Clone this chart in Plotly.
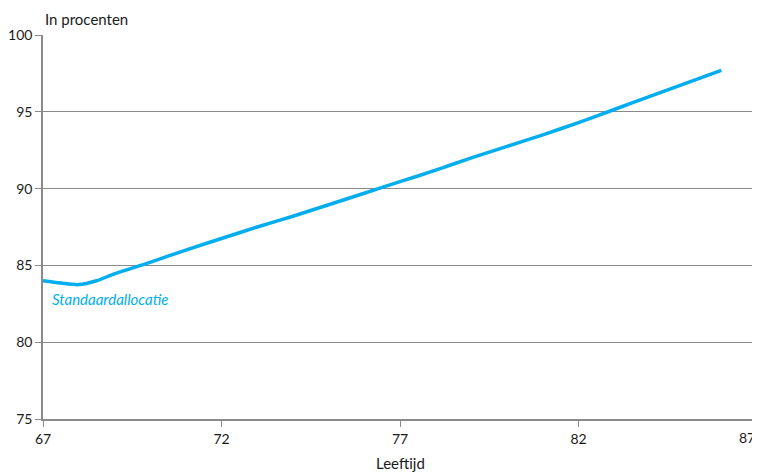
import plotly.graph_objects as go

ages = [67, 67.5, 68, 68.5, 69, 70, 71, 72, 73, 74, 75, 76, 77, 78, 79, 80, 81, 82, 83, 84, 85, 86]
standaard = [84.0, 83.85, 83.75, 84.0, 84.45, 85.2, 86.0, 86.75, 87.5, 88.2, 88.95, 89.7, 90.45,
             91.2, 92.0, 92.75, 93.5, 94.3, 95.15, 96.0, 96.85, 97.7]
x_ticks = [67, 72, 77, 82, 87]
y_ticks = [75, 80, 85, 90, 95, 100]

blue = "#00aeef"
grid = "#8a8a8a"
font = "Lato, Noto Sans, sans-serif"

fig = go.Figure()
fig.add_trace(go.Scatter(x=ages, y=standaard, mode="lines",
                         line=dict(color=blue, width=3.5, shape="spline", smoothing=0.8),
                         hoverinfo="skip", showlegend=False))

fig.add_annotation(x=67.2, y=82.8, xref="x", yref="y", text="<i>Standaardallocatie</i>",
                   showarrow=False, xanchor="left", yanchor="middle",
                   font=dict(family=font, size=15, color=blue))
fig.add_annotation(x=0, y=1, xref="paper", yref="paper", text="In procenten",
                   showarrow=False, xanchor="left", yanchor="bottom", yshift=5,
                   font=dict(family=font, size=15, color="#1a1a1a"))
fig.add_annotation(x=0.5, y=0, xref="paper", yref="paper", text="Leeftijd",
                   showarrow=False, xanchor="center", yanchor="top", yshift=-33,
                   font=dict(family=font, size=15, color="#1a1a1a"))
# last tick label, at the right edge as in the original
fig.add_annotation(x=x_ticks[-1], y=0, xref="x", yref="paper", text=str(x_ticks[-1]),
                   showarrow=False, xanchor="right", yanchor="top", yshift=-8,
                   font=dict(family=font, size=14, color="#1a1a1a"))

fig.update_layout(
    width=752, height=464,
    margin=dict(l=35, r=3, t=27, b=53),
    paper_bgcolor="white", plot_bgcolor="white",
    font=dict(family=font, size=14, color="#1a1a1a"),
    xaxis=dict(range=[67, 87], tickvals=x_ticks[:-1], showgrid=False, zeroline=False,
               showline=True, linecolor=grid, linewidth=1.5, automargin=False,
               ticks="outside", ticklen=6, tickcolor=grid),
    yaxis=dict(range=[75, 100], tickvals=y_ticks, showgrid=True, gridcolor=grid, gridwidth=1,
               zeroline=False, showline=True, linecolor=grid, linewidth=1.5, mirror=True,
               automargin=False, ticks="outside", ticklen=6, tickcolor=grid),
)

fig.write_html("out.html")
